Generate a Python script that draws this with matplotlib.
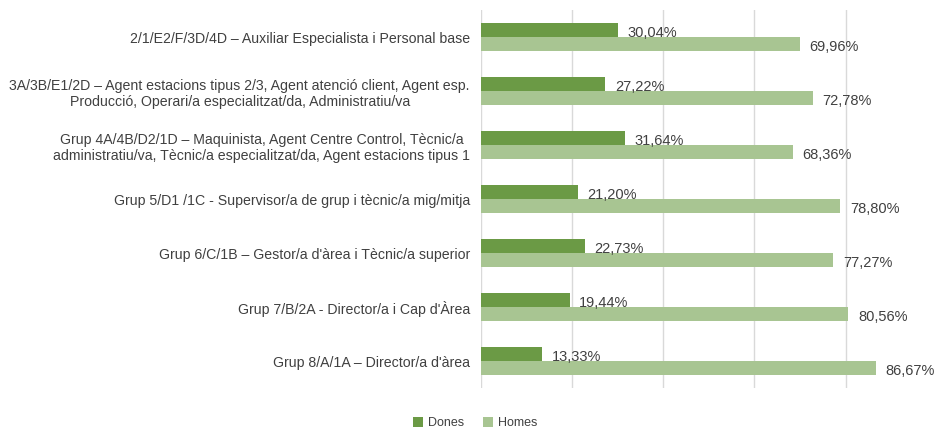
import matplotlib.pyplot as plt
import numpy as np

plt.rcParams['font.family'] = ['Liberation Sans', 'DejaVu Sans']

categories = [
    '2/1/E2/F/3D/4D – Auxiliar Especialista i Personal base',
    '3A/3B/E1/2D – Agent estacions tipus 2/3, Agent atenció client, Agent esp.\nProducció, Operari/a especialitzat/da, Administratiu/va',
    'Grup 4A/4B/D2/1D – Maquinista, Agent Centre Control, Tècnic/a\nadministratiu/va, Tècnic/a especialitzat/da, Agent estacions tipus 1',
    'Grup 5/D1 /1C - Supervisor/a de grup i tècnic/a mig/mitja',
    "Grup 6/C/1B – Gestor/a d'àrea i Tècnic/a superior",
    "Grup 7/B/2A - Director/a i Cap d'Àrea",
    "Grup 8/A/1A – Director/a d'àrea",
]
dones = [30.04, 27.22, 31.64, 21.20, 22.73, 19.44, 13.33]
homes = [69.96, 72.78, 68.36, 78.80, 77.27, 80.56, 86.67]

dark = '#6b9a45'
light = '#a8c592'
text_col = '#404040'

fig = plt.figure(figsize=(9.35, 4.32), dpi=100)
ax = fig.add_axes([481 / 935, 1 - 388 / 432, 1 - 481 / 935, 378 / 432])

y = np.arange(len(categories))
h = 0.26
ax.barh(y - h / 2, dones, height=h, color=dark, label='Dones', zorder=3)
ax.barh(y + h / 2, homes, height=h, color=light, label='Homes', zorder=3)

# data labels, decimal comma like the original
for yi, v in zip(y, dones):
    ax.annotate(f'{v:.2f}%'.replace('.', ','), (v, yi - h / 2), xytext=(7, -2),
                textcoords='offset points', va='center', ha='left',
                fontsize=10.5, color=text_col, zorder=4)
for yi, v in zip(y, homes):
    ax.annotate(f'{v:.2f}%'.replace('.', ','), (v, yi + h / 2), xytext=(7, -2),
                textcoords='offset points', va='center', ha='left',
                fontsize=10.5, color=text_col, zorder=4)

ax.set_xlim(0, 99.6)
ax.set_ylim(len(categories) - 0.5, -0.5)
ax.set_xticks([0, 20, 40, 60, 80])
ax.set_xticklabels([])
ax.set_yticks(y)
ax.set_yticklabels(categories, fontsize=10.2, color=text_col, multialignment='center')
ax.tick_params(length=0, pad=8)
ax.grid(axis='x', color='#d9d9d9', linewidth=1, zorder=0)
for s in ax.spines.values():
    s.set_visible(False)

fig.legend(loc='center', bbox_to_anchor=(475 / 935, 1 - 423 / 432), ncol=2,
           frameon=False, fontsize=9, handlelength=0.8, handleheight=0.8,
           handletextpad=0.4, columnspacing=1.5, labelcolor=text_col)

fig.savefig('out.png', dpi=100)
